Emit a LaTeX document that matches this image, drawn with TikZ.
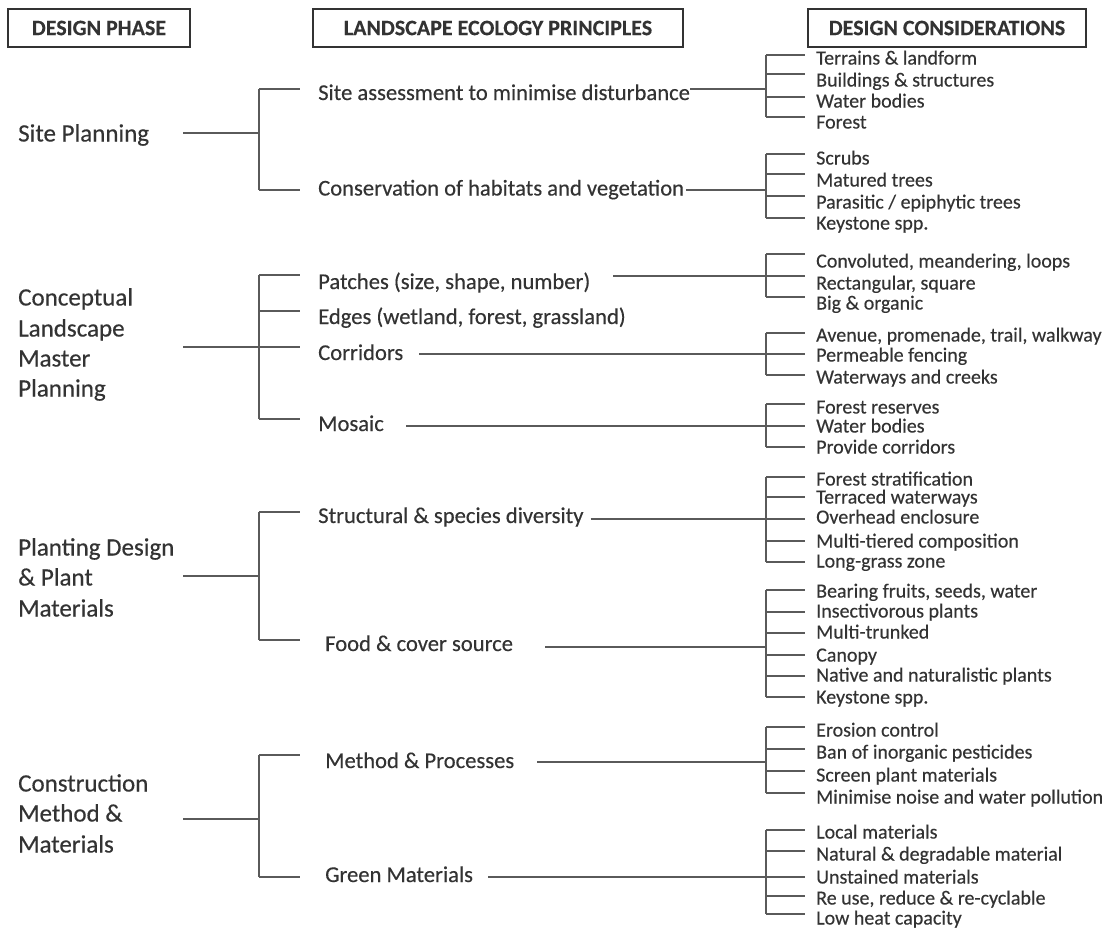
\documentclass[tikz,border=0pt]{standalone}
\usepackage{fontspec}
\setmainfont{Carlito}[FakeBold=0.35]
\newfontfamily\hdrfont{Carlito}[FakeBold=0.2]
\usetikzlibrary{calc}
\definecolor{txt}{HTML}{333333}
\definecolor{ln}{HTML}{5A5A5A}
\tikzset{
  conn/.style={draw=ln, line width=1.1pt},
  hdr/.style={draw=txt, line width=1.7pt, text=txt, inner sep=0pt, minimum height=38pt,
    font=\hdrfont\bfseries\fontsize{22}{26}\selectfont},
  phase/.style={anchor=base west, inner sep=0pt, text=txt, font=\fontsize{25}{30}\selectfont},
  prin/.style={anchor=base west, inner sep=0pt, text=txt, font=\fontsize{22.6}{27}\selectfont},
  cons/.style={anchor=base west, inner sep=0pt, text=txt, font=\fontsize{20}{24}\selectfont},
}
% leaf of the design-considerations column: name, arm y, label centre y, text
\newcommand\consleaf[4]{%
  \node[cons] (#1) at (816,#3+6.5) {#4};
  \coordinate (#1-a) at (805,#2);
  \coordinate (#1-b) at (766,#2);
  \draw[conn] (#1-b) -- (#1-a);}
% arm of a principles bracket: name, arm y
\newcommand\prinarm[2]{%
  \coordinate (#1-a) at (300,#2);
  \coordinate (#1-b) at (259,#2);
  \draw[conn] (#1-b) -- (#1-a);}
\begin{document}
\begin{tikzpicture}[x=1pt,y=-1pt]
\useasboundingbox (0,0) rectangle (1114,929);

% headers
\node[hdr, minimum width=182pt] (h1) at (99,28) {DESIGN PHASE};
\node[hdr, minimum width=370pt] (h2) at (498,28) {LANDSCAPE ECOLOGY PRINCIPLES};
\node[hdr, minimum width=278pt] (h3) at (947,28) {DESIGN CONSIDERATIONS};

% ---------------- Site Planning
\node[phase] (sp) at (18,141.5) {Site Planning};
\coordinate (sp-s) at (183,133); \coordinate (sp-j) at (259,133);
\draw[conn] (sp-s) -- (sp-j);
\node[prin] (sa) at (318,100) {Site assessment to minimise disturbance};
\node[prin] (cv) at (318,195.5) {Conservation of habitats and vegetation};
\prinarm{sa}{89}
\prinarm{cv}{190}
\draw[conn] (sa-b) -- (cv-b);

\consleaf{t1}{55}{58}{Terrains \& landform}
\consleaf{t2}{74}{80}{Buildings \& structures}
\consleaf{t3}{97}{101}{Water bodies}
\consleaf{t4}{117}{122}{Forest}
\coordinate (m1) at (766,89);
\draw[conn] (t1-b) -- (t4-b);
\draw[conn] (sa.east|-m1) -- (m1);

\consleaf{s1}{154}{158}{Scrubs}
\consleaf{s2}{174}{180}{Matured trees}
\consleaf{s3}{196}{202}{Parasitic / epiphytic trees}
\consleaf{s4}{218}{223}{Keystone spp.}
\coordinate (m2) at (766,190);
\draw[conn] (s1-b) -- (s4-b);
\draw[conn] ($(cv.east|-m2)+(2,0)$) -- (m2);

% ---------------- Conceptual Landscape Master Planning
\node[phase] (cl1) at (18,305.5) {Conceptual};
\node[phase] (cl2) at (18,336.5) {Landscape};
\node[phase] (cl3) at (18,366.5) {Master};
\node[phase] (cl4) at (18,396.5) {Planning};
\coordinate (cl-s) at (183,347); \coordinate (cl-j) at (259,347);
\draw[conn] (cl-s) -- (cl-j);
\node[prin] (pa) at (318,289) {Patches (size, shape, number)};
\node[prin] (ed) at (318,324) {Edges (wetland, forest, grassland)};
\node[prin] (co) at (318,360) {Corridors};
\node[prin] (mo) at (318,431) {Mosaic};
\prinarm{pa}{275}
\prinarm{ed}{311}
\prinarm{co}{347}
\prinarm{mo}{419}
\draw[conn] (pa-b) -- (mo-b);

\consleaf{p1}{254}{261}{Convoluted, meandering, loops}
\consleaf{p2}{276}{283}{Rectangular, square}
\consleaf{p3}{297}{303}{Big \& organic}
\coordinate (m3) at (766,276);
\draw[conn] (p1-b) -- (p3-b);
\draw[conn] ($(pa.east|-m3)+(23,0)$) -- (m3);

\consleaf{c1}{333}{335}{Avenue, promenade, trail, walkway}
\consleaf{c2}{354}{355}{Permeable fencing}
\consleaf{c3}{375}{377}{Waterways and creeks}
\coordinate (m4) at (766,354);
\draw[conn] (c1-b) -- (c3-b);
\draw[conn] ($(co.east|-m4)+(16,0)$) -- (m4);

\consleaf{o1}{404}{407}{Forest reserves}
\consleaf{o2}{426}{426}{Water bodies}
\consleaf{o3}{447}{447}{Provide corridors}
\coordinate (m5) at (766,426);
\draw[conn] (o1-b) -- (o3-b);
\draw[conn] ($(mo.east|-m5)+(22,0)$) -- (m5);

% ---------------- Planting Design & Plant Materials
\node[phase] (pd1) at (18,555.5) {Planting Design};
\node[phase] (pd2) at (18,585.5) {\& Plant};
\node[phase] (pd3) at (18,616.5) {Materials};
\coordinate (pd-s) at (183,576); \coordinate (pd-j) at (259,576);
\draw[conn] (pd-s) -- (pd-j);
\node[prin] (st) at (318,523) {Structural \& species diversity};
\node[prin] (fo) at (325,651) {Food \& cover source};
\prinarm{st}{512}
\prinarm{fo}{640}
\draw[conn] (st-b) -- (fo-b);

\consleaf{d1}{477}{479}{Forest stratification}
\consleaf{d2}{497}{497}{Terraced waterways}
\consleaf{d3}{519}{517}{Overhead enclosure}
\consleaf{d4}{541}{541}{Multi-tiered composition}
\consleaf{d5}{562}{561}{Long-grass zone}
\coordinate (m6) at (766,519);
\draw[conn] (d1-b) -- (d5-b);
\draw[conn] ($(st.east|-m6)+(7,0)$) -- (m6);

\consleaf{f1}{590}{591}{Bearing fruits, seeds, water}
\consleaf{f2}{612}{611}{Insectivorous plants}
\consleaf{f3}{633}{632}{Multi-trunked}
\consleaf{f4}{655}{655}{Canopy}
\consleaf{f5}{676}{675}{Native and naturalistic plants}
\consleaf{f6}{697}{697}{Keystone spp.}
\coordinate (m7) at (766,647);
\draw[conn] (f1-b) -- (f6-b);
\draw[conn] ($(fo.east|-m7)+(32,0)$) -- (m7);

% ---------------- Construction Method & Materials
\node[phase] (cm1) at (18,791.5) {Construction};
\node[phase] (cm2) at (18,821.5) {Method \&};
\node[phase] (cm3) at (18,852.5) {Materials};
\coordinate (cm-s) at (183,819); \coordinate (cm-j) at (259,819);
\draw[conn] (cm-s) -- (cm-j);
\node[prin] (me) at (325,768) {Method \& Processes};
\node[prin] (gr) at (325,882) {Green Materials};
\prinarm{me}{755}
\prinarm{gr}{877}
\draw[conn] (me-b) -- (gr-b);

\consleaf{e1}{727}{730}{Erosion control}
\consleaf{e2}{749}{752}{Ban of inorganic pesticides}
\consleaf{e3}{771}{775}{Screen plant materials}
\consleaf{e4}{793}{797}{Minimise noise and water pollution}
\coordinate (m8) at (766,762);
\draw[conn] (e1-b) -- (e4-b);
\draw[conn] ($(me.east|-m8)+(23,0)$) -- (m8);

\consleaf{g1}{830}{832}{Local materials}
\consleaf{g2}{851}{854}{Natural \& degradable material}
\consleaf{g3}{877}{877}{Unstained materials}
\consleaf{g4}{896}{898}{Re use, reduce \& re-cyclable}
\consleaf{g5}{914}{918}{Low heat capacity}
\coordinate (m9) at (766,877);
\draw[conn] (g1-b) -- (g5-b);
\draw[conn] ($(gr.east|-m9)+(15,0)$) -- (m9);
\end{tikzpicture}
\end{document}
